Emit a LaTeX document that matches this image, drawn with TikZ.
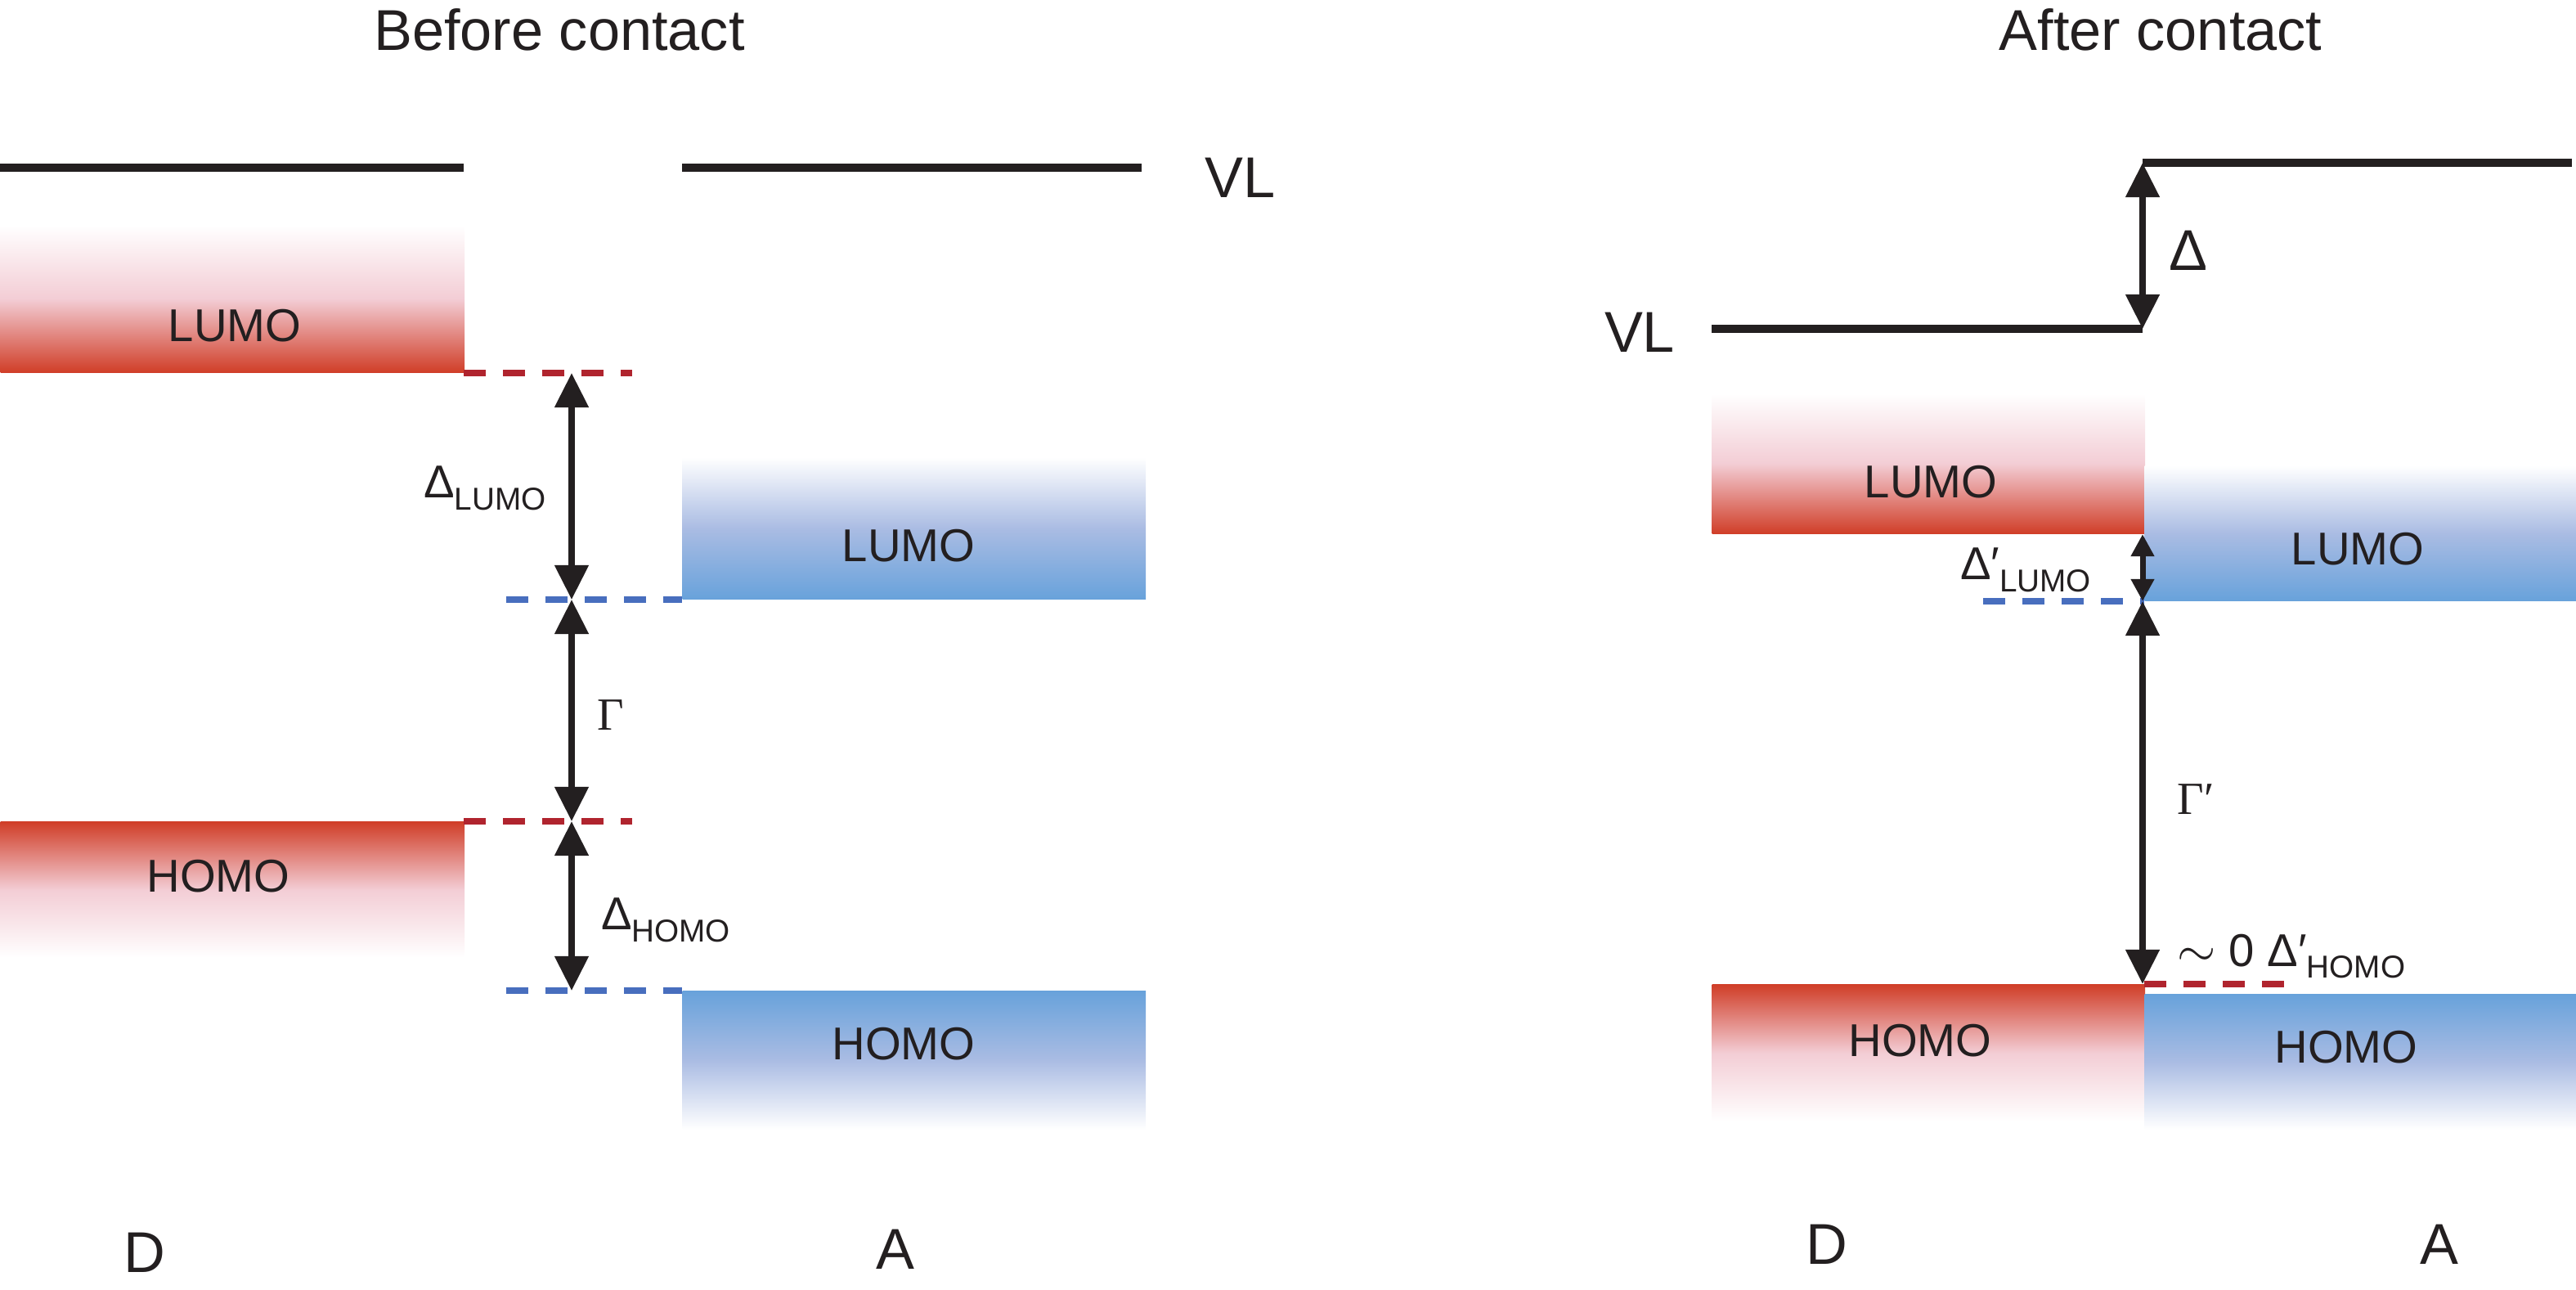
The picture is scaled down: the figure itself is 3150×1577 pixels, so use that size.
\documentclass[tikz,border=0pt]{standalone}
\usepackage{fontspec}
\setmainfont{Liberation Sans}
\newfontfamily\grserif{Liberation Serif}
\usetikzlibrary{arrows.meta}
\definecolor{levred}{RGB}{208,62,40}
\definecolor{levpink}{RGB}{243,205,213}
\definecolor{levblue}{RGB}{104,162,219}
\definecolor{levlav}{RGB}{170,188,227}
\definecolor{dashred}{RGB}{176,36,46}
\definecolor{dashblue}{RGB}{72,110,190}
\definecolor{ink}{RGB}{35,31,32}
\newcommand{\sub}[1]{\raisebox{-0.5ex}{\fontsize{11pt}{13pt}\selectfont #1}}
\begin{document}
\begin{tikzpicture}[x=0.01cm, y=-0.01cm, every node/.style={inner sep=0pt, text=ink},
	lumoD/.style={top color=white, bottom color=levred, middle color=levpink},
	homoD/.style={top color=levred, bottom color=white, middle color=levpink},
	lumoA/.style={top color=white, bottom color=levblue, middle color=levlav},
	homoA/.style={top color=levblue, bottom color=white, middle color=levlav},
	title/.style={font=\fontsize{20pt}{24pt}\selectfont},
	lbl/.style={font=\fontsize{16pt}{19pt}\selectfont},
	vl/.style={draw=ink, line width=2.7pt},
	dashr/.style={draw=dashred, line width=2pt, dash pattern=on 0.27cm off 0.21cm},
	dashb/.style={draw=dashblue, line width=2pt, dash pattern=on 0.27cm off 0.21cm},
	dim/.style={draw=ink, line width=2.2pt, {Triangle[length=0.42cm,width=0.40cm]}-{Triangle[length=0.42cm,width=0.40cm]}},
	dimsmall/.style={draw=ink, line width=2pt, {Triangle[length=0.27cm,width=0.27cm]}-{Triangle[length=0.27cm,width=0.27cm]}}]
	\useasboundingbox (0,0) rectangle (3150,1577);
	% before contact
	\node[title] (tbefore) at (684,36) {Before contact};
	\draw[vl] (0,205) -- (567,205);
	\draw[vl] (834,205) -- (1396,205);
	\node[title] (vlB) at (1517,217) {VL};
	\node[lumoD, minimum width=5.67cm, minimum height=1.8cm, anchor=south west] (dlumoB) at (0,456) {};
	\node[lumoA, minimum width=5.66cm, minimum height=1.73cm, anchor=south west] (alumoB) at (834,733) {};
	\node[homoD, minimum width=5.67cm, minimum height=1.66cm, anchor=north west] (dhomoB) at (0,1004) {};
	\node[homoA, minimum width=5.66cm, minimum height=1.69cm, anchor=north west] (ahomoB) at (834,1211) {};
	\node[lbl] (tdlumoB) at (287,398) {LUMO};
	\node[lbl] (talumoB) at (1111,667) {LUMO};
	\node[lbl] (tdhomoB) at (267,1071) {HOMO};
	\node[lbl] (tahomoB) at (1105,1276) {HOMO};
	\draw[dashr] (567,456) -- (773,456);
	\draw[dashb] (619,733) -- (834,733);
	\draw[dashr] (567,1004) -- (773,1004);
	\draw[dashb] (619,1211) -- (834,1211);
	\coordinate (bL) at (699,456);
	\coordinate (bLa) at (699,733);
	\coordinate (bH) at (699,1004);
	\coordinate (bHa) at (699,1211);
	\draw[dim] (bL) -- (bLa);
	\draw[dim] (bLa) -- (bH);
	\draw[dim] (bH) -- (bHa);
	\node[lbl] (dlumo) at (593,597) {Δ\sub{LUMO}};
	\node[lbl] (gap) at (747,874) {\grserif Γ};
	\node[lbl] (dhomo) at (814,1125) {Δ\sub{HOMO}};
	\node[title] (donB) at (177,1531) {D};
	\node[title] (accB) at (1095,1527) {A};
	% after contact
	\node[title] (tafter) at (2642,36) {After contact};
	\draw[vl] (2093,402) -- (2620,402);
	\draw[vl] (2620,199) -- (3145,199);
	\node[title] (vlA) at (2005,406) {VL};
	\node[lumoD, minimum width=5.29cm, minimum height=1.71cm, anchor=south west] (dlumoA) at (2093,653) {};
	\node[lumoA, minimum width=5.28cm, minimum height=1.65cm, anchor=south west] (alumoA) at (2622,735) {};
	\node[homoD, minimum width=5.29cm, minimum height=1.67cm, anchor=north west] (dhomoA) at (2093,1203) {};
	\node[homoA, minimum width=5.28cm, minimum height=1.65cm, anchor=north west] (ahomoA) at (2622,1215) {};
	\node[lbl] (tdlumoA) at (2361,589) {LUMO};
	\node[lbl] (talumoA) at (2883,671) {LUMO};
	\node[lbl] (tdhomoA) at (2348,1272) {HOMO};
	\node[lbl] (tahomoA) at (2869,1280) {HOMO};
	\draw[dashb] (2425,735) -- (2622,735);
	\draw[dashr] (2622,1203) -- (2808,1203);
	\coordinate (aVu) at (2620,199);
	\coordinate (aVd) at (2620,402);
	\coordinate (aL) at (2620,653);
	\coordinate (aLa) at (2620,735);
	\coordinate (aH) at (2620,1203);
	\draw[dim] (aVu) -- (aVd);
	\draw[dimsmall] (aL) -- (aLa);
	\draw[dim] (aLa) -- (aH);
	\node[title] (shift) at (2676,306) {Δ};
	\node[lbl] (dlumoP) at (2477,697) {Δ′\sub{LUMO}};
	\node[lbl] (gapP) at (2685,977) {\grserif Γ′};
	\node[lbl] (dhomoP) at (2802,1169) {$\sim$ 0 Δ′\sub{HOMO}};
	\node[title] (donA) at (2234,1521) {D};
	\node[title] (accA) at (2983,1521) {A};
\end{tikzpicture}
\end{document}
